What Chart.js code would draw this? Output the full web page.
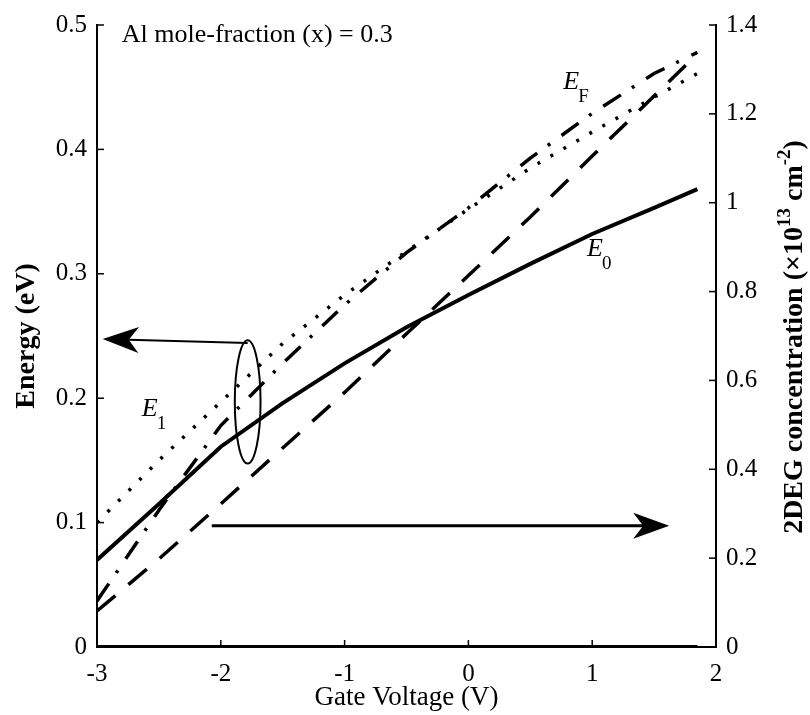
<!DOCTYPE html>
<html>
<head>
<meta charset="utf-8">
<script src="https://cdn.jsdelivr.net/npm/chart.js@4.4.1/dist/chart.umd.min.js"></script>
<style>
  html, body { margin: 0; padding: 0; background: #fff; }
  canvas { display: block; }
</style>
</head>
<body>
<canvas id="chart" width="810" height="715"></canvas>
<script>
// --- Data ---
const gateV   = [-3, -2.5, -2, -1.5, -1, -0.5, 0, 0.5, 1, 1.5, 1.85];
const e0      = [0.070, 0.115, 0.161, 0.196, 0.228, 0.257, 0.283, 0.308, 0.332, 0.353, 0.368];
const e1      = [0.100, 0.150, 0.197, 0.244, 0.283, 0.318, 0.352, 0.385, 0.414, 0.442, 0.461];
const eF      = [0.037, 0.110, 0.178, 0.228, 0.275, 0.317, 0.353, 0.393, 0.429, 0.461, 0.478];
const n2deg   = [0.081, 0.198, 0.322, 0.448, 0.573, 0.705, 0.836, 0.968, 1.105, 1.240, 1.335];
const zeroLine = [0, 0, 0, 0, 0, 0, 0, 0, 0, 0, 0];

const xTicks      = [-3, -2, -1, 0, 1, 2];
const energyTicks = [0, 0.1, 0.2, 0.3, 0.4, 0.5];
const concTicks   = [0, 0.2, 0.4, 0.6, 0.8, 1, 1.2, 1.4];

const SERIF = "'Liberation Serif', 'Times New Roman', serif";

function pts(ys) {
    return gateV.map((v, i) => ({ x: v, y: ys[i] }));
}

// --- Annotations: inward ticks, labels, ellipse, arrows, right axis title ---
function line(ctx, x0, y0, x1, y1) {
    ctx.beginPath();
    ctx.moveTo(x0, y0);
    ctx.lineTo(x1, y1);
    ctx.stroke();
}

function arrow(ctx, x0, y0, x1, y1, lw) {
    const ang = Math.atan2(y1 - y0, x1 - x0);
    const len = 36, half = 13, notch = 26;
    ctx.lineWidth = lw;
    line(ctx, x0, y0, x1 - Math.cos(ang) * notch, y1 - Math.sin(ang) * notch);
    ctx.save();
    ctx.translate(x1, y1);
    ctx.rotate(ang);
    ctx.beginPath();
    ctx.moveTo(0, 0);
    ctx.lineTo(-len, -half);
    ctx.lineTo(-notch, 0);
    ctx.lineTo(-len, half);
    ctx.closePath();
    ctx.fill();
    ctx.restore();
}

function subLabel(ctx, x, y, main, sub) {
    ctx.textAlign = 'left';
    ctx.textBaseline = 'alphabetic';
    ctx.font = `italic 26px ${SERIF}`;
    ctx.fillText(main, x, y);
    ctx.font = `19px ${SERIF}`;
    ctx.fillText(sub, x + 15, y + 13);
}

const annotations = {
    id: 'annotations',
    afterDraw(chart) {
        const { ctx, chartArea: a, scales } = chart;
        const X = v => scales.x.getPixelForValue(v);
        const Y = v => scales.y.getPixelForValue(v);
        ctx.save();
        ctx.strokeStyle = '#000';
        ctx.fillStyle = '#000';

        // inward tick marks
        ctx.lineWidth = 1.5;
        xTicks.forEach(v => line(ctx, X(v), a.bottom, X(v), a.bottom - 7));
        energyTicks.forEach(v => line(ctx, a.left, Y(v), a.left + 7, Y(v)));
        concTicks.forEach(v => {
            const py = scales.y2.getPixelForValue(v);
            line(ctx, a.right, py, a.right - 7, py);
        });

        // title text
        ctx.font = `26px ${SERIF}`;
        ctx.textAlign = 'left';
        ctx.textBaseline = 'alphabetic';
        ctx.fillText('Al mole-fraction (x) = 0.3', X(-2.80), Y(0.4865));

        // curve labels
        subLabel(ctx, X(0.766), Y(0.4486), 'E', 'F');
        subLabel(ctx, X(0.958), Y(0.314), 'E', '0');
        subLabel(ctx, X(-2.638), Y(0.1858), 'E', '1');

        // ellipse grouping the energy curves
        ctx.lineWidth = 2;
        ctx.beginPath();
        ctx.ellipse(X(-1.783), Y(0.197), X(-1.783) - X(-1.887), Y(0.197) - Y(0.2465), 0, 0, Math.PI * 2);
        ctx.stroke();

        // arrows
        arrow(ctx, X(-1.783), Y(0.2443), X(-2.954), Y(0.2475), 2);
        arrow(ctx, X(-2.073), Y(0.0975), X(1.622), Y(0.0975), 3);

        // right axis title (reads bottom to top)
        ctx.translate(795, 337);
        ctx.rotate(-Math.PI / 2);
        const parts = [
            ['2DEG concentration (\u00d710', 0],
            ['13', 1],
            [' cm', 0],
            ['-2', 1],
            [')', 0]
        ];
        const big = `bold 28px ${SERIF}`, small = `bold 19px ${SERIF}`;
        let total = 0;
        parts.forEach(([t, s]) => { ctx.font = s ? small : big; total += ctx.measureText(t).width; });
        let cx = -total / 2;
        ctx.textBaseline = 'middle';
        parts.forEach(([t, s]) => {
            ctx.font = s ? small : big;
            ctx.fillText(t, cx, s ? -10 : 0);
            cx += ctx.measureText(t).width;
        });
        ctx.restore();
    }
};

const tickFont = { family: SERIF, size: 25 };

new Chart(document.getElementById('chart'), {
    type: 'line',
    data: {
        datasets: [
            { label: 'zero', data: pts(zeroLine), borderColor: '#000', borderWidth: 4, yAxisID: 'y' },
            { label: 'E0', data: pts(e0), borderColor: '#000', borderWidth: 4, yAxisID: 'y' },
            { label: 'E1', data: pts(e1), borderColor: '#000', borderWidth: 3.5, borderDash: [3, 12], yAxisID: 'y' },
            { label: 'EF', data: pts(eF), borderColor: '#000', borderWidth: 3.5, borderDash: [21, 13, 3, 14], yAxisID: 'y' },
            { label: '2DEG', data: pts(n2deg), borderColor: '#000', borderWidth: 3.5, borderDash: [24, 17], yAxisID: 'y2' }
        ]
    },
    options: {
        responsive: false,
        animation: false,
        devicePixelRatio: 1,
        layout: { padding: { top: 15, left: 0, right: 0, bottom: 0 } },
        elements: { point: { radius: 0 }, line: { tension: 0 } },
        plugins: { legend: { display: false }, tooltip: { enabled: false } },
        scales: {
            x: {
                type: 'linear', min: -3, max: 2,
                afterBuildTicks: s => { s.ticks = xTicks.map(v => ({ value: v })); },
                afterFit: s => { s.height = 68; },
                grid: { display: false, drawTicks: false },
                border: { display: true, color: '#000', width: 2 },
                ticks: { color: '#000', font: tickFont, padding: 12, maxRotation: 0, callback: v => String(v) },
                title: { display: true, text: 'Gate Voltage (V)', color: '#000', font: { family: SERIF, size: 27 }, padding: 1 }
            },
            y: {
                position: 'left', min: 0, max: 0.5,
                afterBuildTicks: s => { s.ticks = energyTicks.map(v => ({ value: v })); },
                afterFit: s => { s.width = 97; },
                grid: { display: false, drawTicks: false },
                border: { display: true, color: '#000', width: 2 },
                ticks: { color: '#000', font: tickFont, padding: 10, callback: v => String(v) },
                title: { display: true, text: 'Energy (eV)', color: '#000', font: { family: SERIF, size: 28, weight: 'bold' }, padding: 10 }
            },
            y2: {
                position: 'right', min: 0, max: 1.4,
                afterBuildTicks: s => { s.ticks = concTicks.map(v => ({ value: v })); },
                afterFit: s => { s.width = 94; },
                grid: { display: false, drawTicks: false },
                border: { display: true, color: '#000', width: 2 },
                ticks: { color: '#000', font: tickFont, padding: 10, callback: v => String(v) }
            }
        }
    },
    plugins: [annotations]
});
</script>
</body>
</html>
